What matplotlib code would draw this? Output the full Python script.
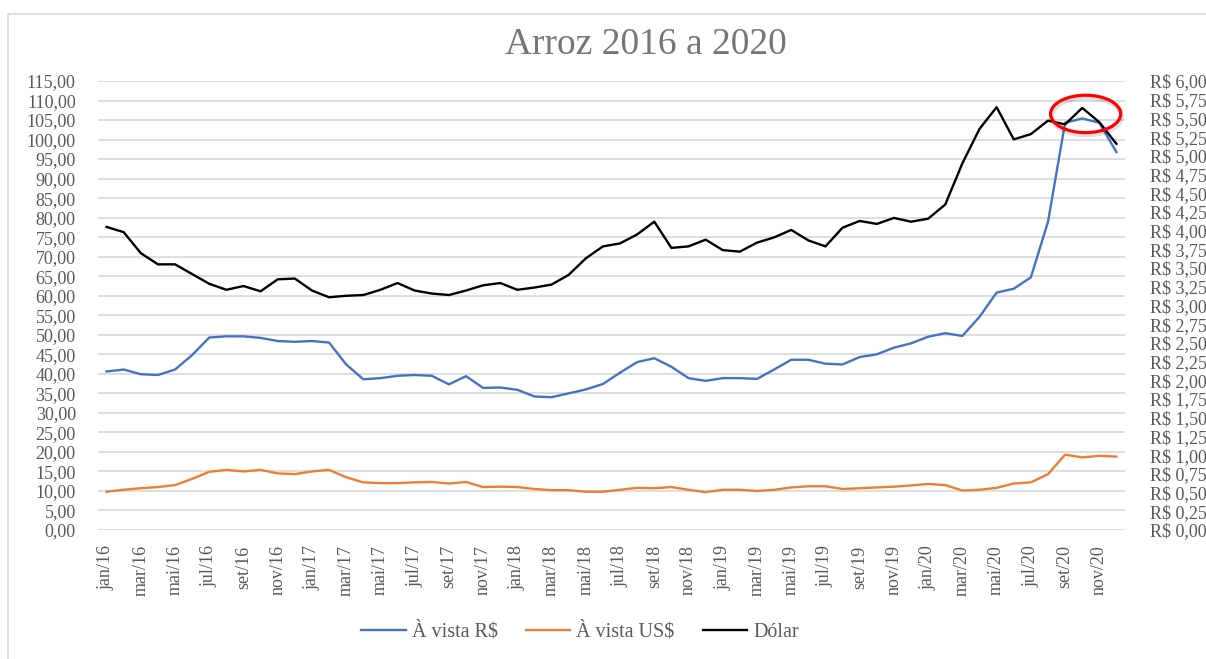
import matplotlib.pyplot as plt
from matplotlib.patches import Ellipse, Rectangle
from matplotlib.ticker import FixedLocator, FuncFormatter

# Monthly data, jan/2016 - dez/2020
month_names = ['jan', 'fev', 'mar', 'abr', 'mai', 'jun',
               'jul', 'ago', 'set', 'out', 'nov', 'dez']
years = ['16', '17', '18', '19', '20']
months = [m + '/' + y for y in years for m in month_names]

# À vista R$ (left axis)
avista_brl = [
    40.6, 41.1, 39.9, 39.7, 41.1, 44.8, 49.3, 49.6, 49.6, 49.2, 48.4, 48.2,
    48.4, 48.0, 42.4, 38.6, 38.9, 39.5, 39.7, 39.5, 37.3, 39.4, 36.4, 36.5,
    35.9, 34.2, 34.0, 35.0, 36.0, 37.4, 40.3, 43.0, 44.0, 41.8, 38.9, 38.2,
    38.9, 38.9, 38.7, 41.1, 43.6, 43.6, 42.6, 42.4, 44.3, 45.0, 46.7, 47.8,
    49.5, 50.4, 49.7, 54.6, 60.8, 61.8, 64.7, 78.9, 104.3, 105.4, 104.3, 96.8,
]

# À vista US$ (left axis)
avista_usd = [
    9.8, 10.3, 10.7, 11.0, 11.5, 13.1, 14.9, 15.4, 15.0, 15.4, 14.5, 14.3,
    15.0, 15.4, 13.5, 12.2, 12.0, 12.0, 12.2, 12.3, 11.9, 12.3, 11.0, 11.1,
    11.0, 10.5, 10.2, 10.2, 9.8, 9.8, 10.3, 10.8, 10.7, 11.0, 10.3, 9.7,
    10.3, 10.3, 10.0, 10.3, 10.9, 11.2, 11.2, 10.5, 10.7, 10.9, 11.1, 11.4,
    11.8, 11.5, 10.1, 10.3, 10.8, 11.9, 12.2, 14.3, 19.3, 18.6, 19.0, 18.8,
]

# Dólar (right axis, R$)
dolar = [
    4.05, 3.98, 3.70, 3.55, 3.55, 3.42, 3.29, 3.21, 3.26, 3.19, 3.35, 3.36,
    3.20, 3.11, 3.13, 3.14, 3.21, 3.30, 3.20, 3.16, 3.14, 3.20, 3.27, 3.30,
    3.21, 3.24, 3.28, 3.41, 3.63, 3.79, 3.83, 3.95, 4.12, 3.77, 3.79, 3.88,
    3.74, 3.72, 3.84, 3.91, 4.01, 3.87, 3.79, 4.04, 4.13, 4.09, 4.17, 4.12,
    4.16, 4.35, 4.90, 5.36, 5.65, 5.22, 5.29, 5.47, 5.42, 5.64, 5.45, 5.16,
]

left_ticks = list(range(0, 120, 5))
right_ticks = [i * 0.25 for i in range(25)]

blue = '#4472C4'
orange = '#ED7D31'
text_gray = '#595959'

plt.rcParams['font.family'] = ['Liberation Serif', 'DejaVu Serif']

fig = plt.figure(figsize=(12.06, 6.59), dpi=100)
ax = fig.add_axes([98 / 1206, 1 - 530 / 659, (1125 - 98) / 1206, (530 - 81) / 659])
ax2 = ax.twinx()

x = list(range(len(months)))
ax.plot(x, avista_brl, color=blue, lw=1.7, label='À vista R$')
ax.plot(x, avista_usd, color=orange, lw=1.7, label='À vista US$')
ax2.plot(x, dolar, color='black', lw=1.7, label='Dólar')

ax.set_xlim(-0.5, len(months) - 0.5)
ax.set_ylim(0, 115)
ax2.set_ylim(0, 6)

ax.yaxis.set_major_locator(FixedLocator(left_ticks))
ax.yaxis.set_major_formatter(FuncFormatter(lambda v, p: f'{v:.2f}'.replace('.', ',')))
ax2.yaxis.set_major_locator(FixedLocator(right_ticks))
ax2.yaxis.set_major_formatter(FuncFormatter(lambda v, p: 'R$ ' + f'{v:.2f}'.replace('.', ',')))

ax.set_xticks(x[::2])
ax.set_xticklabels(months[::2], rotation=90)

ax.grid(axis='y', color='#D9D9D9', lw=1.2)
ax.set_axisbelow(True)
for a in (ax, ax2):
    for s in a.spines.values():
        s.set_visible(False)
    a.tick_params(length=0, colors=text_gray, labelsize=13)
ax.tick_params(axis='y', pad=16)
ax.tick_params(axis='x', pad=11)
ax2.tick_params(axis='y', pad=18)

# red highlight around the set-nov/20 peak
peak = x[-3]
shadow = Ellipse((peak + 0.25, 5.53), 4.1, 0.50, fill=False,
                 edgecolor='#000000', alpha=0.12, lw=3.5, zorder=4)
ax2.add_patch(shadow)
ring = Ellipse((peak + 0.2, 5.56), 4.1, 0.50, fill=False,
               edgecolor='#FF0000', lw=2.3, zorder=5)
ax2.add_patch(ring)

fig.text(646 / 1206, 1 - 54 / 659, 'Arroz 2016 a 2020', ha='center',
         va='baseline', fontsize=27, color='#767676')

handles = ax.get_lines() + ax2.get_lines()
fig.legend(handles, [h.get_label() for h in handles], loc='center',
           bbox_to_anchor=(580 / 1206, 1 - 632 / 659), ncol=3, frameon=False,
           fontsize=14.5, handlelength=2.2, handletextpad=0.3,
           columnspacing=1.4, labelcolor=text_gray)

# chart frame
fig.patches.append(Rectangle((8 / 1206, -0.05), 1.1, 1 - 14 / 659 + 0.05,
                             transform=fig.transFigure, fill=False,
                             edgecolor='#D9D9D9', lw=1.2))

fig.savefig('out.png', dpi=100)
